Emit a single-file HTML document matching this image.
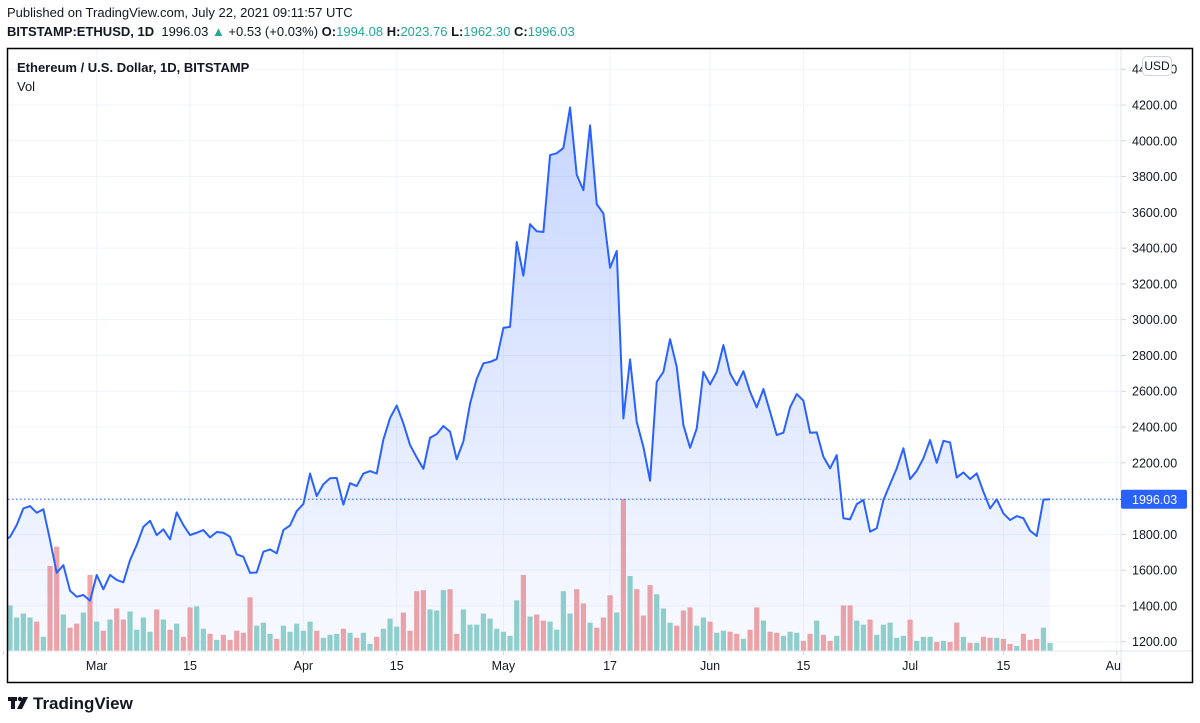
<!DOCTYPE html>
<html><head><meta charset="utf-8">
<style>
html,body{margin:0;padding:0;background:#fff;}
body{width:1200px;height:723px;overflow:hidden;position:relative;font-family:"Liberation Sans",sans-serif;color:#131722;}
.hdr{position:absolute;left:7px;font-size:13px;white-space:nowrap;}
.g{color:#26a69a;}
b{font-weight:bold;}
</style></head><body>
<div class="hdr" style="top:5px;">Published on TradingView.com, July 22, 2021 09:11:57 UTC</div>
<div class="hdr" style="top:24px;"><b>BITSTAMP:ETHUSD, 1D</b>&nbsp; 1996.03 <span class="g">▲</span> +0.53 (+0.03%) <b>O:</b><span class="g">1994.08</span> <b>H:</b><span class="g">2023.76</span> <b>L:</b><span class="g">1962.30</span> <b>C:</b><span class="g">1996.03</span></div>
<svg id="chart" width="1200" height="723" style="position:absolute;left:0;top:0;" xmlns="http://www.w3.org/2000/svg">
<defs>
<linearGradient id="fillg" x1="0" y1="0" x2="0" y2="1">
<stop offset="0" stop-color="#2962ff" stop-opacity="0.26"/>
<stop offset="1" stop-color="#2962ff" stop-opacity="0.03"/>
</linearGradient>
<clipPath id="plotclip"><rect x="8" y="49" width="1113" height="602"/></clipPath>
<clipPath id="xclip"><rect x="8" y="651" width="1113" height="31"/></clipPath>
</defs>
<g id="grid"></g>
<g id="vol" clip-path="url(#plotclip)"></g>
<g id="price" clip-path="url(#plotclip)"></g>
<g id="axes"></g>
<rect x="7.5" y="48.5" width="1185" height="634" fill="none" stroke="#000" stroke-width="1.5"/>
<text x="17" y="72" font-size="13" font-weight="bold" fill="#131722" font-family="Liberation Sans, sans-serif">Ethereum / U.S. Dollar, 1D, BITSTAMP</text>
<text x="17" y="91" font-size="13" fill="#131722" font-family="Liberation Sans, sans-serif">Vol</text>
<g>
<rect x="8" y="697" width="9" height="4" fill="#131722"/><rect x="11" y="697" width="4" height="12" fill="#131722"/>
<circle cx="20" cy="699" r="2.2" fill="#131722"/>
<polygon points="23,697 28,697 22,709 17,709" fill="#131722"/>
<text x="33" y="709" font-size="17" font-weight="bold" fill="#131722" font-family="Liberation Sans, sans-serif">TradingView</text>
</g>
</svg>
<script>
const startDate = [2021, 1, 15]; // Feb 15 2021 (month 0-based)
const closes = [1760,1786,1852,1945,1958,1921,1940,1768,1585,1628,1485,1451,1461,1429,
1573,1493,1573,1545,1532,1656,1740,1842,1876,1796,1828,1772,1923,1852,1796,1809,1824,1783,1813,1809,1787,1688,1675,1585,1587,1703,1716,1694,1824,1850,1930,
1970,2140,2014,2080,2114,2116,1966,2086,2070,2140,2154,2140,2330,2450,2520,2420,2300,2230,2166,2340,2360,2406,2374,2220,2320,2530,2670,2756,2764,2780,
2954,2960,3434,3246,3534,3494,3490,3920,3930,3960,4186,3810,3724,4086,3646,3594,3290,3384,2448,2778,2429,2289,2100,2653,2708,2891,2736,2411,2284,2392,2708,
2638,2708,2858,2700,2634,2712,2597,2510,2612,2485,2355,2368,2510,2584,2547,2368,2370,2234,2169,2243,1890,1884,1969,1992,1815,1834,1992,2081,2169,2281,
2109,2155,2225,2327,2200,2323,2314,2118,2146,2109,2141,2038,1945,1996,1917,1880,1902,1890,1820,1791,1994,1996];
const volumes = [30,
45,33,37,33,29,14,84,103,36,23,27,38,75,29,20,31,42,31,39,21,33,19,41,31,21,27,14,43,44,22,17,11,16,11,20,18,53,25,28,17,12,25,19,27,
20,29,20,13,16,17,22,18,13,18,7,14,22,32,24,38,20,59,60,41,40,60,61,17,41,26,26,37,32,22,19,15,50,75,34,36,30,29,21,59,37,61,47,28,23,33,55,38,
150,74,61,35,65,56,42,28,25,40,43,25,33,29,18,20,19,17,12,21,43,30,19,18,15,19,18,10,17,30,16,10,15,45,45,30,26,31,16,26,28,13,15,31,10,14,14,9,10,9,28,14,8,8,14,13,13,12,7,5,17,11,12,23,8];
const volUp = [1,
1,1,1,1,0,1,0,0,1,0,0,1,0,1,0,1,0,0,1,1,1,1,0,1,0,1,0,0,1,1,0,1,0,0,0,0,0,1,1,1,0,1,1,1,
1,1,0,1,1,1,0,1,0,1,1,0,1,1,1,0,0,0,0,1,1,1,0,0,1,1,1,1,1,1,1,1,1,0,1,0,0,1,1,1,1,0,0,1,0,0,0,1,
0,1,0,0,0,1,1,1,0,0, 0,1,1,0,1,1,0,0,1,0, 0,1,0,0,1,1,1,0,0,1, 0,0,1,0,0,1,1,0,1,1, 1,1,1,0,1,1,1,0,1,0, 0,1,0,1,0,0,1,0,0,1, 0,0,0,1,1];
const priceTicks = [1200,1400,1600,1800,2000,2200,2400,2600,2800,3000,3200,3400,3600,3800,4000,4200,4400];
const timeTicks = [["5",2021,1,15],["Mar",2021,2,1],["15",2021,2,15],["Apr",2021,3,1],["15",2021,3,15],["May",2021,4,1],["17",2021,4,17],["Jun",2021,5,1],["15",2021,5,15],["Jul",2021,6,1],["15",2021,6,15],["Aug",2021,7,1]];
const lastPrice = 1996.03;

const NS="http://www.w3.org/2000/svg";
const DAY=86400000, PXD=6.667, MAR1X=96.7;
const mar1=Date.UTC(2021,2,1);
function xDate(y,m,d){return MAR1X+(Date.UTC(y,m,d)-mar1)/DAY*PXD;}
const x0=xDate(startDate[0],startDate[1],startDate[2]);
function xIdx(i){return x0+i*PXD;}
function yP(v){return 641.7-(v-1200)*0.1789;}
const VBASE=651, VMAX=150, VPX=152;
function yV(v){return VBASE-v/VMAX*VPX;}
function mk(tag,attrs,parent){const e=document.createElementNS(NS,tag);for(const k in attrs)e.setAttribute(k,attrs[k]);parent.appendChild(e);return e;}
const grid=document.getElementById('grid'), axes=document.getElementById('axes');
const vol=document.getElementById('vol'), price=document.getElementById('price');
// horizontal grid + price labels
priceTicks.forEach(v=>{
  const y=yP(v);
  const l=mk('line',{x1:8,x2:1121,y1:y,y2:y,stroke:'#f0f3fa','stroke-width':1},grid);
  
  
  const tk=mk('line',{x1:1121,x2:1126,y1:y,y2:y,stroke:'#d1d4dc'},axes);
  
  
  const t=mk('text',{x:1132,y:y+4.5,'font-size':12.5,fill:'#131722','font-family':'Liberation Sans, sans-serif'},axes);
  t.textContent=v.toFixed(2);
  
  
});
// vertical grid + time labels
timeTicks.forEach(tt=>{
  const x=xDate(tt[1],tt[2],tt[3]);
  const l=mk('line',{x1:x,x2:x,y1:49,y2:651,stroke:'#f0f3fa','stroke-width':1},grid);
  
  
  const tk=mk('line',{x1:x,x2:x,y1:651,y2:655,stroke:'#d1d4dc'},axes);
  
  
  const t=mk('text',{x:x,y:670,'font-size':12.5,fill:'#131722','text-anchor':'middle','font-family':'Liberation Sans, sans-serif','clip-path':'url(#xclip)'},axes);
  t.textContent=tt[0];
  
  
});
// axis lines
const ax1=mk('line',{x1:1121,x2:1121,y1:49,y2:682,stroke:'#e0e3eb'},axes);


const ax2=mk('line',{x1:8,x2:1192,y1:651,y2:651,stroke:'#e0e3eb'},axes);


// volume bars
volumes.forEach((v,i)=>{
  const x=xIdx(i), y=yV(v);
  const r=mk('rect',{x:x-2.6,y:y,width:5.2,height:VBASE-y,fill:volUp[i]?'#92d2ca':'#f2a5a5'},vol);
  
  
});
// area fill + line
let d='';
closes.forEach((v,i)=>{d+=(i?'L':'M')+xIdx(i).toFixed(2)+','+yP(v).toFixed(2);});
const lastX=xIdx(closes.length-1);
const area=mk('path',{d:d+'L'+lastX.toFixed(2)+','+VBASE+'L'+x0.toFixed(2)+','+VBASE+'Z',fill:'url(#fillg)'},price);


const line=mk('path',{d:d,fill:'none',stroke:'#2962ff','stroke-width':2,'stroke-linejoin':'round'},price);


// last price line & label
const ly=yP(lastPrice);
const pl=mk('line',{x1:8,x2:1121,y1:ly,y2:ly,stroke:'#2962ff','stroke-width':1,'stroke-dasharray':'1.5 2.5'},axes);


const pb=mk('rect',{x:1121,y:ly-9.5,width:66,height:19,rx:2,fill:'#2962ff'},axes);


const pt=mk('text',{x:1132,y:ly+4.5,'font-size':12.5,fill:'#fff','font-family':'Liberation Sans, sans-serif'},axes);
pt.textContent=lastPrice.toFixed(2);


// USD badge
const ub=mk('rect',{x:1142.5,y:56.5,width:29,height:19,rx:4,fill:'#fff',stroke:'#d1d4dc'},axes);


const ut=mk('text',{x:1157,y:70,'font-size':12,fill:'#131722','text-anchor':'middle','font-family':'Liberation Sans, sans-serif'},axes);
ut.textContent='USD';


</script>
</body></html>
